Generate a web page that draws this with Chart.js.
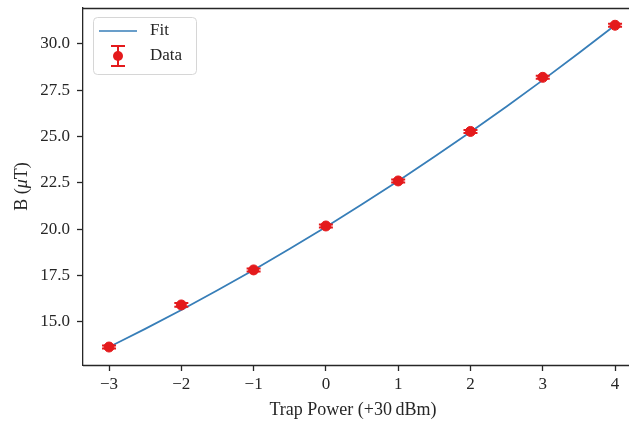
<!DOCTYPE html>
<html>
<head>
<meta charset="utf-8">
<script src="https://cdn.jsdelivr.net/npm/chart.js@4.4.1/dist/chart.umd.min.js"></script>
<style>
  html, body { margin: 0; padding: 0; background: #fff; }
  #wrap { width: 629px; height: 425px; }
</style>
</head>
<body>
<div id="wrap"><canvas id="myChart" width="629" height="425"></canvas></div>
<script>
// measured points
var power = [-3, -2, -1, 0, 1, 2, 3, 4];
var field = [13.65, 15.92, 17.81, 20.18, 22.61, 25.28, 28.2, 31.01];
var fieldErr = [0.08, 0.1, 0.08, 0.08, 0.08, 0.08, 0.08, 0.08];

// fitted curve
var fitPower = [-3, -2.5, -2, -1.5, -1, -0.5, 0, 0.5, 1, 1.5, 2, 2.5, 3, 3.5, 4];
var fitField = [13.65, 14.63, 15.65, 16.71, 17.81, 18.95, 20.13, 21.35, 22.61, 23.91, 25.25, 26.63, 28.05, 29.51, 31.01];

var xTicks = [-3, -2, -1, 0, 1, 2, 3, 4];
var yTicks = [15, 17.5, 20, 22.5, 25, 27.5, 30];

var RED = '#e41a1c';
var BLUE = '#377eb8';
var AXIS = '#262626';
var FONT = '"Liberation Serif", serif';

function xy(xs, ys) {
    var out = [];
    for (var i = 0; i < xs.length; i++) out.push({x: xs[i], y: ys[i]});
    return out;
}

// error bars, top/bottom spines running to the edge and the y label (italic mu)
var errorBars = {
    id: 'errorBars',
    afterDatasetsDraw: function(chart) {
        var ctx = chart.ctx;
        var xs = chart.scales.x, ys = chart.scales.y;
        ctx.save();
        ctx.strokeStyle = RED;
        ctx.lineWidth = 2;
        for (var i = 0; i < power.length; i++) {
            var px = xs.getPixelForValue(power[i]);
            var y1 = ys.getPixelForValue(field[i] + fieldErr[i]);
            var y2 = ys.getPixelForValue(field[i] - fieldErr[i]);
            ctx.beginPath();
            ctx.moveTo(px, y1); ctx.lineTo(px, y2);
            ctx.moveTo(px - 7, y1); ctx.lineTo(px + 7, y1);
            ctx.moveTo(px - 7, y2); ctx.lineTo(px + 7, y2);
            ctx.stroke();
        }
        var a = chart.chartArea;
        var top = Math.round(a.top) + 0.5, bottom = Math.round(a.bottom) + 0.5;
        ctx.strokeStyle = AXIS;
        ctx.lineWidth = 1.3;
        ctx.beginPath();
        ctx.moveTo(a.left, top);
        ctx.lineTo(chart.width, top);
        ctx.moveTo(a.left, bottom);
        ctx.lineTo(chart.width, bottom);
        ctx.stroke();

        // y axis title
        var parts = [['B (', ''], ['\u03BC', 'italic '], ['T)', '']];
        ctx.fillStyle = AXIS;
        ctx.textBaseline = 'middle';
        var total = 0;
        parts.forEach(function(p) { ctx.font = p[1] + '18px ' + FONT; total += ctx.measureText(p[0]).width; });
        ctx.translate(22, (a.top + a.bottom) / 2);
        ctx.rotate(-Math.PI / 2);
        var cx = -total / 2;
        parts.forEach(function(p) {
            ctx.font = p[1] + '18px ' + FONT;
            ctx.fillText(p[0], cx, 0);
            cx += ctx.measureText(p[0]).width;
        });
        ctx.restore();
    }
};

// legend box inside the plot
var legendBox = {
    id: 'legendBox',
    afterDraw: function(chart) {
        var ctx = chart.ctx;
        var a = chart.chartArea;
        var x = a.left + 10, y = a.top + 9, w = 103, h = 57, r = 4;
        ctx.save();
        ctx.fillStyle = 'rgba(255,255,255,0.8)';
        ctx.strokeStyle = '#d6d6d6';
        ctx.lineWidth = 1;
        ctx.beginPath();
        ctx.roundRect(x + 0.5, y + 0.5, w, h, r);
        ctx.fill();
        ctx.stroke();

        ctx.strokeStyle = BLUE;
        ctx.lineWidth = 1.7;
        ctx.beginPath();
        ctx.moveTo(x + 6, y + 14);
        ctx.lineTo(x + 44, y + 14);
        ctx.stroke();

        var mx = x + 25, my = y + 39;
        ctx.strokeStyle = RED;
        ctx.lineWidth = 2;
        ctx.beginPath();
        ctx.moveTo(mx, my - 10); ctx.lineTo(mx, my + 10);
        ctx.moveTo(mx - 7, my - 10); ctx.lineTo(mx + 7, my - 10);
        ctx.moveTo(mx - 7, my + 10); ctx.lineTo(mx + 7, my + 10);
        ctx.stroke();
        ctx.fillStyle = RED;
        ctx.beginPath();
        ctx.arc(mx, my, 5, 0, Math.PI * 2);
        ctx.fill();

        ctx.fillStyle = AXIS;
        ctx.font = '17px ' + FONT;
        ctx.textBaseline = 'middle';
        ctx.fillText('Fit', x + 57, y + 14);
        ctx.fillText('Data', x + 57, y + 39);
        ctx.restore();
    }
};

var ctx = document.getElementById('myChart').getContext('2d');
var chart = new Chart(ctx, {
    type: 'scatter',
    data: {
        datasets: [{
            label: 'Fit',
            type: 'line',
            data: xy(fitPower, fitField),
            borderColor: BLUE,
            borderWidth: 1.8,
            pointRadius: 0,
            cubicInterpolationMode: 'monotone',
            order: 2
        }, {
            label: 'Data',
            data: xy(power, field),
            backgroundColor: RED,
            borderColor: RED,
            pointRadius: 5,
            order: 1
        }]
    },
    options: {
        responsive: false,
        animation: false,
        events: [],
        layout: { padding: { top: 8, right: 0, left: 0, bottom: 0 } },
        plugins: { legend: { display: false }, tooltip: { enabled: false } },
        scales: {
            x: {
                type: 'linear',
                min: -3.36,
                max: 4.11,
                afterBuildTicks: function(s) { s.ticks = xTicks.map(function(v) { return {value: v}; }); },
                afterFit: function(s) { s.height = 60; s.paddingLeft = 0; s.paddingRight = 0; },
                grid: { drawOnChartArea: false, drawTicks: true, tickLength: 6, tickWidth: 1.3, tickColor: AXIS },
                border: { display: false },
                ticks: {
                    color: AXIS,
                    font: { family: FONT, size: 17 },
                    padding: 3,
                    maxRotation: 0,
                    callback: function(v) { return String(v).replace('-', '\u2212'); }
                },
                title: {
                    display: true,
                    text: 'Trap Power (+30\u2009dBm)',
                    color: AXIS,
                    font: { family: FONT, size: 18 },
                    padding: { top: 4 }
                }
            },
            y: {
                min: 12.68,
                max: 31.94,
                afterBuildTicks: function(s) { s.ticks = yTicks.map(function(v) { return {value: v}; }); },
                afterFit: function(s) { s.width = 83; s.paddingTop = 0; s.paddingBottom = 0; },
                grid: { drawOnChartArea: false, drawTicks: true, tickLength: 6, tickWidth: 1.3, tickColor: AXIS },
                border: { color: AXIS, width: 1.3 },
                ticks: {
                    color: AXIS,
                    font: { family: FONT, size: 17 },
                    padding: 7,
                    callback: function(v) { return v.toFixed(1); }
                }
            }
        }
    },
    plugins: [errorBars, legendBox]
});
</script>
</body>
</html>
